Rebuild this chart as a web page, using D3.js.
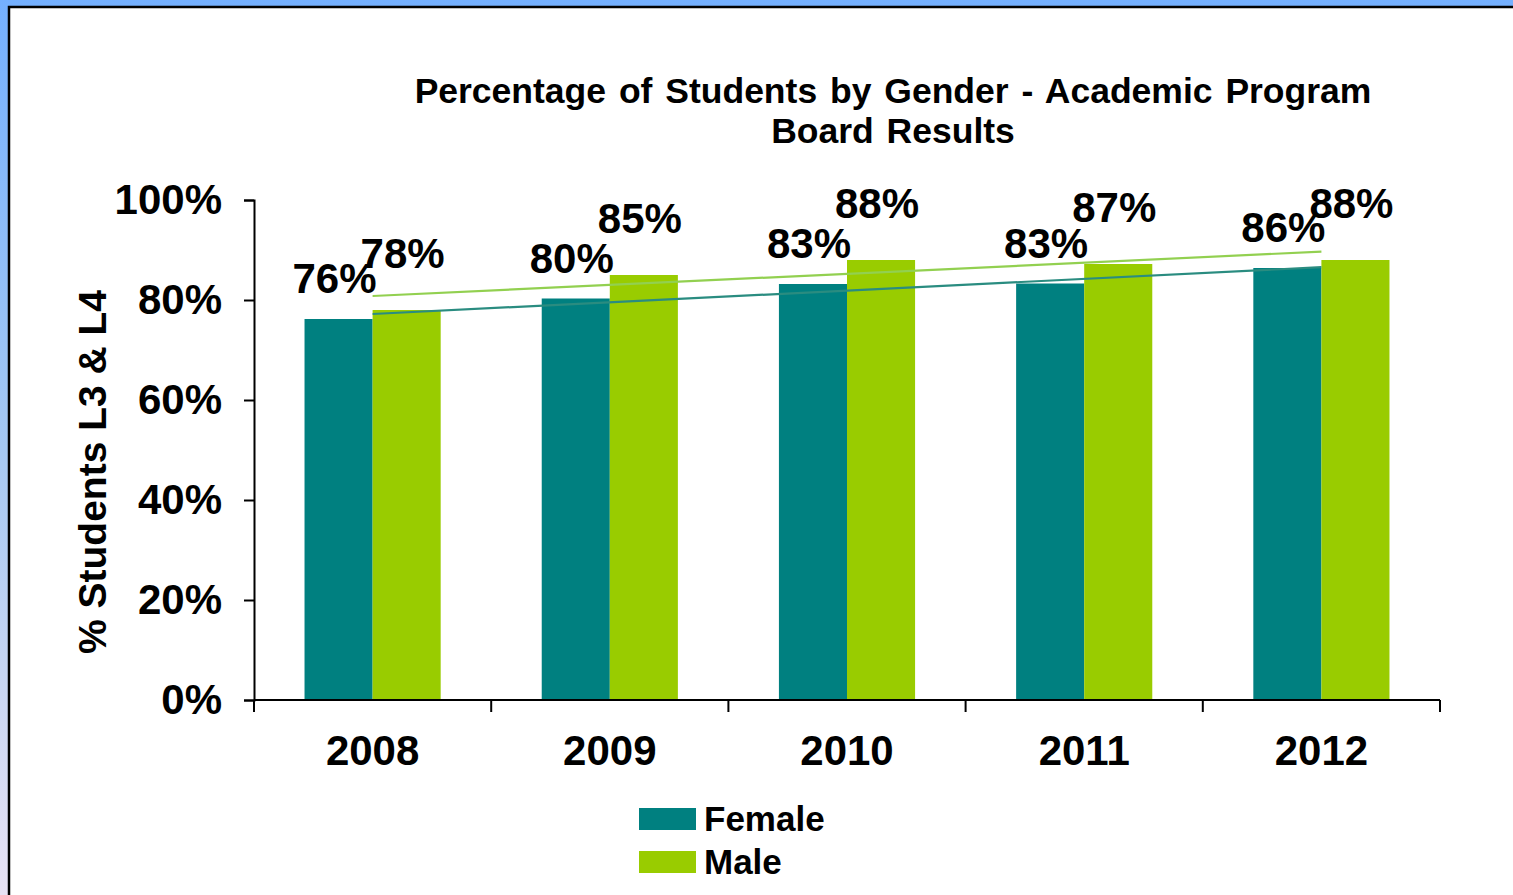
<!DOCTYPE html>
<html>
<head>
<meta charset="utf-8">
<script src="https://cdn.jsdelivr.net/npm/d3@7"></script>
<style>
  body { margin: 0; overflow: hidden; }
  svg { display: block; font-family: "Liberation Sans", Arial, sans-serif; font-weight: bold; }
</style>
</head>
<body>
<svg id="chart" width="1513" height="895"></svg>
<script>
// chart data
var years = ["2008", "2009", "2010", "2011", "2012"];
var seriesNames = ["Female", "Male"];
var femaleValues = [76.2, 80.3, 83.2, 83.3, 86.4];
var maleValues = [78, 85, 88, 87.2, 88];
var yTicks = [0, 20, 40, 60, 80, 100];

var colors = { Female: "#008080", Male: "#99cc00" };
var trendColors = { Female: "#2a8c80", Male: "#92d050" };

var svg = d3.select("#chart");
var W = 1513, H = 895;

// slide background: blue gradient frame
var defs = svg.append("defs");
var grad = defs.append("linearGradient")
    .attr("id", "bg").attr("x1", 0).attr("y1", 0).attr("x2", 0).attr("y2", 1);
grad.append("stop").attr("offset", "0%").attr("stop-color", "#74b0ff");
grad.append("stop").attr("offset", "50%").attr("stop-color", "#a5c8f2");
grad.append("stop").attr("offset", "100%").attr("stop-color", "#e8e2f4");

svg.append("rect").attr("width", W).attr("height", H).attr("fill", "url(#bg)");
svg.append("rect")
    .attr("x", 9).attr("y", 7)
    .attr("width", W + 10).attr("height", H + 10)
    .attr("fill", "#fff")
    .attr("stroke", "#000").attr("stroke-width", 2.5);

var plot = { left: 254, right: 1440, top: 200, bottom: 700 };

var x0 = d3.scaleBand().domain(years).range([plot.left, plot.right]).padding(0);
var barW = x0.bandwidth() * 0.287;
var x1 = d3.scaleBand().domain(seriesNames)
    .range([x0.bandwidth() / 2 - barW, x0.bandwidth() / 2 + barW]);
var y = d3.scaleLinear().domain([0, 100]).range([plot.bottom, plot.top]);

// title
var title = svg.append("text")
    .attr("text-anchor", "middle")
    .attr("font-size", 35.5)
    .attr("word-spacing", 3)
    .attr("x", 893);
title.append("tspan").attr("x", 893).attr("y", 103)
    .text("Percentage of Students by Gender - Academic Program");
title.append("tspan").attr("x", 893).attr("y", 143).text("Board Results");

// bars
var rows = years.map(function(yr, i) {
    return { year: yr, Female: femaleValues[i], Male: maleValues[i] };
});

var groups = svg.selectAll("g.year")
    .data(rows)
    .enter().append("g")
    .attr("class", "year")
    .attr("transform", function(d) { return "translate(" + x0(d.year) + ",0)"; });

groups.selectAll("rect")
    .data(function(d) { return seriesNames.map(function(s) { return { key: s, value: d[s] }; }); })
    .enter().append("rect")
    .attr("x", function(d) { return x1(d.key); })
    .attr("width", x1.bandwidth())
    .attr("y", function(d) { return y(d.value); })
    .attr("height", function(d) { return y(0) - y(d.value); })
    .attr("fill", function(d) { return colors[d.key]; });

// linear trend lines
function trend(values) {
    var n = values.length;
    var mx = d3.mean(values, function(v, i) { return i; });
    var my = d3.mean(values);
    var num = 0, den = 0;
    values.forEach(function(v, i) { num += (i - mx) * (v - my); den += (i - mx) * (i - mx); });
    var slope = num / den;
    return [0, n - 1].map(function(i) { return { i: i, v: my + slope * (i - mx) }; });
}

var line = d3.line()
    .x(function(d) { return x0(years[d.i]) + x0.bandwidth() / 2; })
    .y(function(d) { return y(d.v); });

[["Male", maleValues], ["Female", femaleValues]].forEach(function(s) {
    svg.append("path")
        .attr("d", line(trend(s[1])))
        .attr("fill", "none")
        .attr("stroke", trendColors[s[0]])
        .attr("stroke-width", 2.2);
});

// data labels
var labelOffset = { Female: 26, Male: 42 };
groups.selectAll("text.lbl")
    .data(function(d) { return seriesNames.map(function(s) { return { key: s, value: d[s] }; }); })
    .enter().append("text")
    .attr("class", "lbl")
    .attr("text-anchor", "middle")
    .attr("font-size", 42)
    .attr("x", function(d) { return x1(d.key) + x1.bandwidth() / 2 - 4; })
    .attr("y", function(d) { return y(d.value) - labelOffset[d.key]; })
    .text(function(d) { return Math.round(d.value) + "%"; });

// axes
var yAxis = d3.axisLeft(y)
    .tickValues(yTicks)
    .tickSize(10)
    .tickPadding(22)
    .tickFormat(function(d) { return d + "%"; });

var gy = svg.append("g")
    .attr("transform", "translate(" + plot.left + ",0)")
    .call(yAxis);
gy.select(".domain").attr("stroke", "#000").attr("stroke-width", 2);
gy.selectAll(".tick line").attr("stroke", "#000").attr("stroke-width", 2);
gy.selectAll(".tick text")
    .attr("font-family", "Liberation Sans, Arial, sans-serif")
    .attr("font-weight", "bold")
    .attr("font-size", 42)
    .attr("fill", "#000")
    .attr("dy", "0.33em");

var xEdges = d3.scaleBand().domain(years).range([plot.left, plot.right]);
var gx = svg.append("g").attr("transform", "translate(0," + plot.bottom + ")");
gx.append("line")
    .attr("x1", plot.left).attr("x2", plot.right)
    .attr("stroke", "#000").attr("stroke-width", 2);
gx.selectAll("line.tk")
    .data(years.concat(["end"]))
    .enter().append("line")
    .attr("class", "tk")
    .attr("x1", function(d) { return d === "end" ? plot.right : xEdges(d); })
    .attr("x2", function(d) { return d === "end" ? plot.right : xEdges(d); })
    .attr("y1", 0).attr("y2", 12)
    .attr("stroke", "#000").attr("stroke-width", 2);
gx.selectAll("text")
    .data(years)
    .enter().append("text")
    .attr("text-anchor", "middle")
    .attr("font-size", 42)
    .attr("x", function(d) { return x0(d) + x0.bandwidth() / 2; })
    .attr("y", 65)
    .text(function(d) { return d; });

// y axis title
svg.append("text")
    .attr("transform", "translate(106,472) rotate(-90)")
    .attr("text-anchor", "middle")
    .attr("font-size", 39)
    .text("% Students L3 & L4");

// legend
var legend = svg.append("g").attr("transform", "translate(639,808)");
var li = legend.selectAll("g")
    .data(seriesNames)
    .enter().append("g")
    .attr("transform", function(d, i) { return "translate(0," + (i * 43) + ")"; });
li.append("rect")
    .attr("width", 57).attr("height", 22)
    .attr("fill", function(d) { return colors[d]; });
li.append("text")
    .attr("x", 65).attr("y", 23)
    .attr("font-size", 35)
    .text(function(d) { return d; });
</script>
</body>
</html>
